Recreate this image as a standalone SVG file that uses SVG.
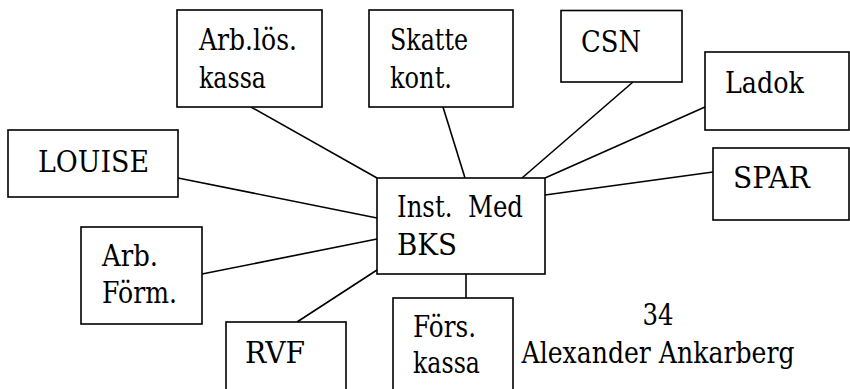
<svg xmlns="http://www.w3.org/2000/svg" width="850" height="389" viewBox="0 0 850 389">
<style>
rect{fill:#fff;stroke:#000;stroke-width:1.6}
line{stroke:#000;stroke-width:1.6}
text{font-size:29px;fill:#000;font-family:'DejaVu Serif',serif}
</style>
<rect x="0" y="0" width="850" height="389" fill="#fff" style="stroke:none"/>
<g id="connectors">
<line x1="251" y1="107" x2="377" y2="178"/>
<line x1="443" y1="107" x2="465" y2="178"/>
<line x1="633" y1="82" x2="522" y2="178"/>
<line x1="705" y1="107" x2="545" y2="178"/>
<line x1="713" y1="172" x2="545" y2="195"/>
<line x1="178" y1="178" x2="377" y2="218"/>
<line x1="202" y1="274" x2="377" y2="239"/>
<line x1="297" y1="322" x2="377" y2="270"/>
<line x1="466" y1="274" x2="466" y2="298"/>
</g>
<g id="arblos">
<rect x="177" y="10" width="145" height="97"/>
<text x="199" y="50" textLength="98" lengthAdjust="spacingAndGlyphs">Arb.lös.</text>
<text x="199" y="88" textLength="67" lengthAdjust="spacingAndGlyphs">kassa</text>
</g>
<g id="skatte">
<rect x="369" y="10" width="144" height="97"/>
<text x="390" y="50" textLength="78" lengthAdjust="spacingAndGlyphs">Skatte</text>
<text x="390" y="88" textLength="62" lengthAdjust="spacingAndGlyphs">kont.</text>
</g>
<g id="csn">
<rect x="561" y="10.5" width="121" height="71.5"/>
<text x="581" y="52" textLength="60" lengthAdjust="spacingAndGlyphs">CSN</text>
</g>
<g id="ladok">
<rect x="705" y="52" width="144" height="78"/>
<text x="725" y="93" textLength="79" lengthAdjust="spacingAndGlyphs">Ladok</text>
</g>
<g id="spar">
<rect x="713" y="148" width="136" height="72"/>
<text x="733" y="188" textLength="77" lengthAdjust="spacingAndGlyphs">SPAR</text>
</g>
<g id="louise">
<rect x="8" y="130" width="170" height="67"/>
<text x="38" y="172" textLength="111" lengthAdjust="spacingAndGlyphs">LOUISE</text>
</g>
<g id="arbform">
<rect x="81" y="227" width="121" height="97"/>
<text x="102" y="266" textLength="56" lengthAdjust="spacingAndGlyphs">Arb.</text>
<text x="102" y="303" textLength="75" lengthAdjust="spacingAndGlyphs">Förm.</text>
</g>
<g id="rvf">
<rect x="226" y="322" width="120" height="80"/>
<text x="245" y="363" textLength="60" lengthAdjust="spacingAndGlyphs">RVF</text>
</g>
<g id="fors">
<rect x="393" y="298" width="120" height="100"/>
<text x="413" y="337" textLength="63" lengthAdjust="spacingAndGlyphs">Förs.</text>
<text x="413" y="373" textLength="67" lengthAdjust="spacingAndGlyphs">kassa</text>
</g>
<g id="inst">
<rect x="377" y="178" width="168" height="96"/>
<text x="397" y="217" xml:space="preserve" textLength="126" lengthAdjust="spacingAndGlyphs">Inst.  Med</text>
<text x="397" y="255" textLength="60" lengthAdjust="spacingAndGlyphs">BKS</text>
</g>
<g id="footer">
<text x="658" y="325" text-anchor="middle" textLength="31" lengthAdjust="spacingAndGlyphs">34</text>
<text x="658" y="363" text-anchor="middle" textLength="273" lengthAdjust="spacingAndGlyphs">Alexander Ankarberg</text>
</g>
</svg>
